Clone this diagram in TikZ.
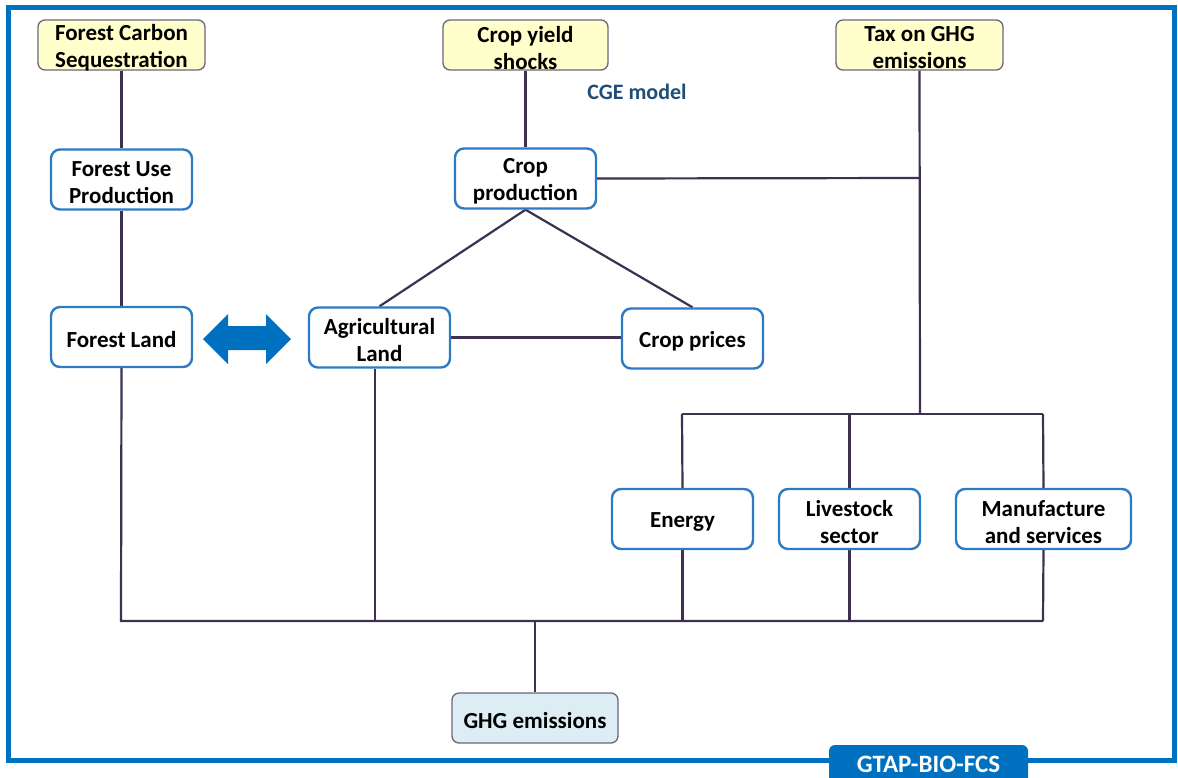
\documentclass[tikz,border=0pt]{standalone}
\usepackage{fontspec}
\setmainfont{Carlito}
\usetikzlibrary{calc}
\pgfdeclarelayer{background}
\pgfsetlayers{background,main}
\definecolor{frameblue}{HTML}{0070C0}
\definecolor{boxblue}{HTML}{2E7BC4}
\definecolor{linecol}{HTML}{3D3050}
\definecolor{yellowfill}{HTML}{FFFFCC}
\definecolor{greyborder}{HTML}{6E6480}
\definecolor{ghgfill}{HTML}{DCEEF4}
\definecolor{cgeblue}{HTML}{1F4E79}
\begin{document}
\begin{tikzpicture}[x=1pt,y=-1pt,
  every node/.style={font=\fontsize{23}{27}\selectfont\bfseries, align=center, inner sep=0pt},
  every label/.style={yshift=-3pt},
  inputbox/.style={draw=greyborder, fill=yellowfill, line width=1.3pt, rounded corners=7pt, minimum height=50pt},
  modelbox/.style={draw=boxblue, fill=white, line width=2.4pt, rounded corners=9pt, minimum width=141pt, minimum height=60pt},
  ghgbox/.style={draw=greyborder, fill=ghgfill, line width=1.3pt, rounded corners=7pt, minimum width=166pt, minimum height=50pt},
  conn/.style={draw=linecol, line width=2.2pt}
]
\useasboundingbox (0,0) rectangle (1178,777);
\begin{pgfonlayer}{background}
\fill[white] (0,0) rectangle (1178,777);
\draw[frameblue, line width=5pt] (8,7) rectangle (1174,760);
\end{pgfonlayer}

% junction coordinates
\coordinate (busL) at (121,621);
\coordinate (busR) at (1043,621);
\coordinate (ghgj) at (535,621);
\coordinate (agj) at (375,621);
\coordinate (taxj) at (920,414);
\coordinate (topL) at (682,414);
\coordinate (topM) at (850,414);
\coordinate (topR) at (1043,414);
\coordinate (cpj) at (920,178);

% nodes
\node[inputbox, minimum width=167pt, label={center:Forest Carbon\\Sequestration}] (fcs) at (121.5,45) {};
\node[inputbox, minimum width=165pt, label={center:Crop yield\\shocks}] (cys) at (525.5,45) {};
\node[inputbox, minimum width=167pt, label={center:Tax on GHG\\emissions}] (tax) at (919.5,45) {};
\node[text=cgeblue, font=\fontsize{22}{26}\selectfont\bfseries] (cge) at (637,92) {CGE model};

\node[modelbox, label={center:Forest Use\\Production}] (fup) at (121.5,179.5) {};
\node[modelbox, label={center:Crop\\production}] (cp) at (525.5,178.5) {};
\node[modelbox, label={center:Forest Land}] (fl) at (121.5,337) {};
\node[modelbox, label={center:Agricultural\\Land}] (al) at (379.5,337.5) {};
\node[modelbox, label={center:Crop prices}] (cpr) at (692.5,338.5) {};
\node[modelbox, label={center:Energy}] (en) at (682.5,519) {};
\node[modelbox, label={center:Livestock\\sector}] (ls) at (849.5,519) {};
\node[modelbox, minimum width=175pt, label={center:Manufacture\\and services}] (ms) at (1043.5,519) {};
\node[ghgbox, label={center:GHG emissions}] (ghg) at (535,718) {};

% connectors
\begin{pgfonlayer}{background}
\draw[conn] (fcs.south) -- (fup.north);
\draw[conn] (fup.south) -- (fl.north);
\draw[conn] (fl.south) -- (busL) -- (busR);
\draw[conn] (al.south -| agj) -- (agj);
\draw[conn] (ghgj) -- (ghg.north);
\draw[conn] (en.south) -- (en.south |- busR);
\draw[conn] (ls.south) -- (ls.south |- busR);
\draw[conn] (ms.south) -- (busR);
\draw[conn] (cys.south) -- (cp.north);
\draw[conn] (cp.east) -- (cpj);
\draw[conn] (tax.south) -- (taxj);
\draw[conn] (topL) -- (topR);
\draw[conn] (topL) -- (en.north);
\draw[conn] (ls.north |- topM) -- (ls.north);
\draw[conn] (topR) -- (ms.north);
\draw[conn] (cp.south) -- (al.north);
\draw[conn] (cp.south) -- (cpr.north);
\draw[conn] (al.east) -- (al.east -| cpr.west);
\end{pgfonlayer}

% double arrow
\fill[frameblue] (203,339) -- (228,314) -- (228,326) -- (266,326) -- (266,314) -- (291,339) -- (266,364) -- (266,350) -- (228,350) -- (228,364) -- cycle;

% GTAP label
\fill[frameblue, rounded corners=6pt] (829,745) rectangle (1028,790);
\node[text=white, font=\fontsize{25}{29}\selectfont\bfseries] (gtap) at (928.5,764) {GTAP-BIO-FCS};
\end{tikzpicture}
\end{document}
